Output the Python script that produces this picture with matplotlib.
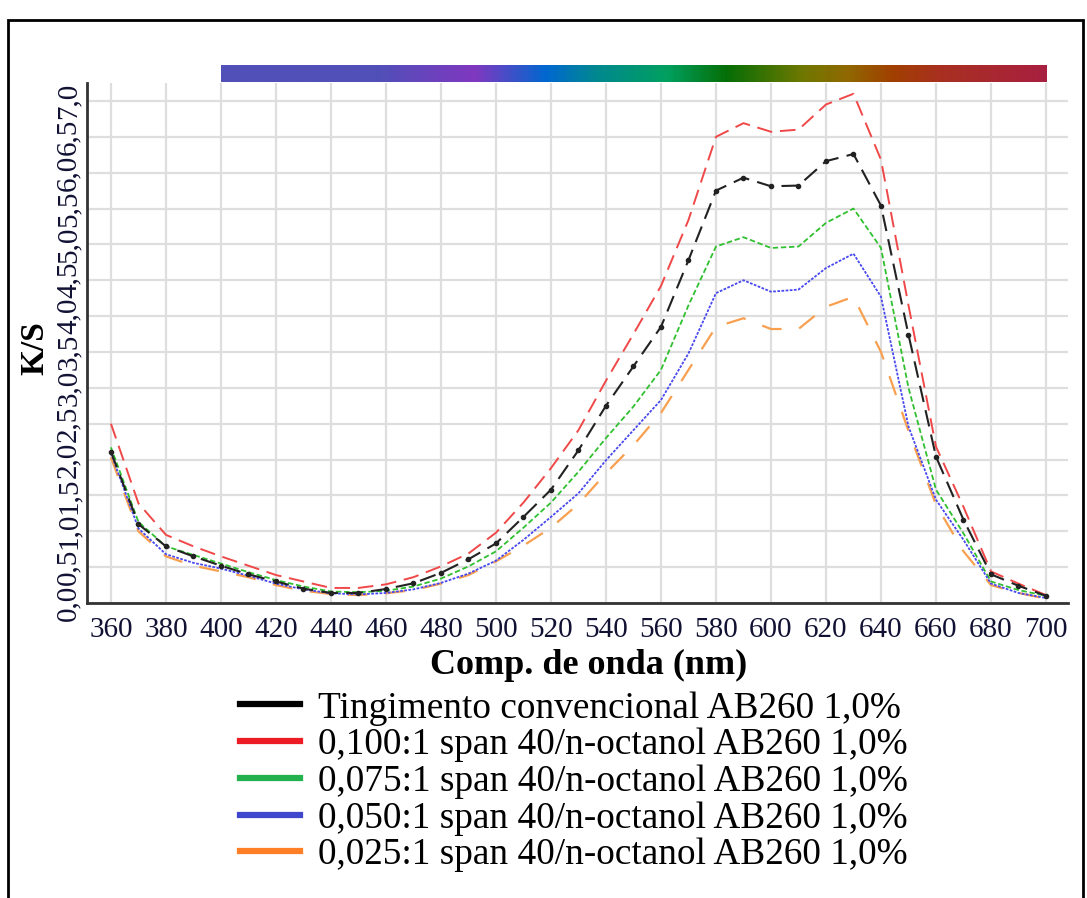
import numpy as np
import matplotlib
matplotlib.use("Agg")
from matplotlib import pyplot as plt
from matplotlib.colors import LinearSegmentedColormap
from matplotlib.lines import Line2D
from matplotlib.patches import Rectangle

plt.rcParams['font.family'] = ['Liberation Serif', 'DejaVu Serif']

wl = list(range(360, 701, 10))

ks_conv = [2.11, 1.10, 0.79, 0.65, 0.52, 0.40, 0.30, 0.20, 0.14, 0.14, 0.195, 0.275,
           0.42, 0.61, 0.83, 1.20, 1.58, 2.13, 2.75, 3.30, 3.85, 4.78, 5.75, 5.93,
           5.81, 5.82, 6.16, 6.26, 5.54, 3.74, 2.04, 1.16, 0.40, 0.24, 0.10]
ks_100 = [2.50, 1.39, 0.95, 0.79, 0.65, 0.52, 0.39, 0.30, 0.21, 0.21, 0.26, 0.36,
          0.51, 0.69, 0.98, 1.40, 1.88, 2.41, 3.10, 3.75, 4.42, 5.34, 6.50, 6.69,
          6.57, 6.60, 6.95, 7.10, 6.18, 4.15, 2.18, 1.34, 0.44, 0.27, 0.11]
ks_075 = [2.17, 1.13, 0.79, 0.67, 0.55, 0.43, 0.32, 0.23, 0.16, 0.15, 0.17, 0.23,
          0.34, 0.51, 0.72, 1.05, 1.40, 1.83, 2.30, 2.74, 3.25, 4.15, 4.97, 5.10,
          4.95, 4.97, 5.30, 5.50, 4.95, 3.00, 1.58, 0.97, 0.30, 0.18, 0.10]
ks_050 = [2.09, 1.04, 0.68, 0.56, 0.48, 0.38, 0.27, 0.19, 0.135, 0.12, 0.14, 0.19,
          0.28, 0.41, 0.59, 0.88, 1.20, 1.53, 1.99, 2.41, 2.83, 3.48, 4.32, 4.50,
          4.34, 4.37, 4.67, 4.87, 4.27, 2.46, 1.44, 0.88, 0.27, 0.14, 0.07]
ks_025 = [2.03, 1.00, 0.65, 0.52, 0.44, 0.36, 0.25, 0.17, 0.125, 0.11, 0.135, 0.18,
          0.27, 0.39, 0.58, 0.80, 1.05, 1.38, 1.81, 2.20, 2.65, 3.25, 3.85, 3.97,
          3.82, 3.82, 4.13, 4.27, 3.50, 2.40, 1.37, 0.72, 0.25, 0.14, 0.06]

labels = ["Tingimento convencional AB260 1,0%",
          "0,100:1 span 40/n-octanol AB260 1,0%",
          "0,075:1 span 40/n-octanol AB260 1,0%",
          "0,050:1 span 40/n-octanol AB260 1,0%",
          "0,025:1 span 40/n-octanol AB260 1,0%"]

xticks = list(range(360, 701, 20))
yticks = [i * 0.5 for i in range(15)]
ytick_labels = [("%.1f" % v).replace(".", ",") for v in yticks]

# spectrum bar colours (nm, colour)
spec_nm = [400, 456, 492, 518, 536, 562, 584, 612, 628, 644, 662, 700]
spec_col = ["#5050b8", "#5050b8", "#8038c0", "#0068d0", "#008890", "#00a060",
            "#066e06", "#707800", "#906800", "#a04000", "#a83020", "#a82040"]

W, H = 1087, 898
fig = plt.figure(figsize=(W / 100, H / 100), dpi=100)

ax = fig.add_axes([87 / W, 1 - 603 / H, (1068 - 87) / W, (603 - 83) / H])
ax.set_xlim(351.3, 708)
ax.set_ylim(0, 7.25)

ax.plot(wl, ks_100, color="#f04848", lw=1.4, dashes=(8, 4), zorder=3)
ax.plot(wl, ks_conv, color="#222222", lw=1.5, dashes=(8, 4), marker="o",
        markersize=3, zorder=5)
ax.plot(wl, ks_075, color="#30c030", lw=1.3, dashes=(3, 1.5), zorder=4)
ax.plot(wl, ks_050, color="#4848f0", lw=1.3, dashes=(1.5, 0.8), zorder=4)
ax.plot(wl, ks_025, color="#f8a050", lw=1.6, dashes=(9, 8), zorder=3)

ax.set_xticks(xticks)
ax.set_yticks(yticks)
ax.set_yticklabels(ytick_labels, rotation=90, va="center")
ax.tick_params(axis="both", length=0, labelsize=21, colors="#111133")
ax.tick_params(axis="x", pad=10)
ax.tick_params(axis="y", pad=4)
ax.grid(True, color="#dedede", lw=1.6)
ax.set_axisbelow(True)
for s in ["top", "right"]:
    ax.spines[s].set_visible(False)
for s in ["left", "bottom"]:
    ax.spines[s].set_color("#333333")
    ax.spines[s].set_linewidth(2)

ax.set_xlabel("Comp. de onda (nm)", fontsize=26, fontweight="bold")
ax.xaxis.set_label_coords((589 - 87) / 981, (603 - 649) / 520)
ax.set_ylabel("K/S", fontsize=24, fontweight="bold")
ax.yaxis.set_label_coords((50 - 87) / 981, (603 - 348) / 520)

# spectrum bar above the plot
bar = fig.add_axes([87 / W, 1 - 82 / H, (1068 - 87) / W, 17 / H])
cmap = LinearSegmentedColormap.from_list(
    "spec", [((n - 400) / 300, c) for n, c in zip(spec_nm, spec_col)])
bar.imshow(np.linspace(0, 1, 600).reshape(1, -1), cmap=cmap, aspect="auto",
           extent=[400, 700, 0, 1])
bar.set_xlim(351.3, 708)
bar.axis("off")

# legend
handles = [Line2D([0], [0], color=c, lw=4.5)
           for c in ["#000000", "#ed1c24", "#22b14c", "#3f48cc", "#ff7f27"]]
fig.legend(handles, labels, loc="upper left", bbox_to_anchor=(240 / W, 1 - 691 / H),
           frameon=False, fontsize=26.8, handlelength=1.6, handletextpad=0.5,
           labelspacing=0.06, borderpad=0, borderaxespad=0)

# outer frame
fig.patches.append(Rectangle((8 / W, -0.01), (1083 - 8) / W, 1 - 20 / H + 0.01,
                             transform=fig.transFigure, fill=False,
                             edgecolor="black", lw=2))

fig.savefig("out.png", dpi=100)
